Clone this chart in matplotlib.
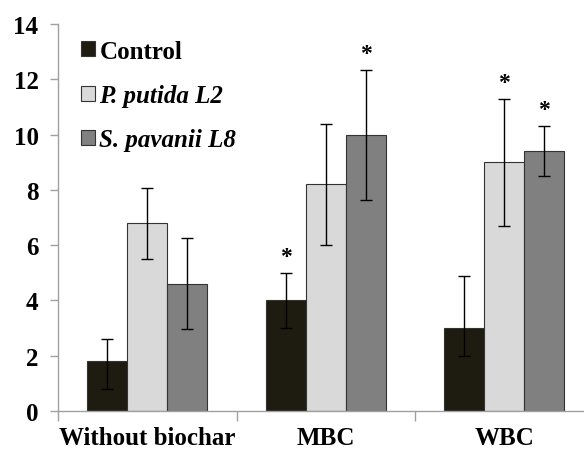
import numpy as np
import matplotlib
matplotlib.use("Agg")
import matplotlib.pyplot as plt

plt.rcParams["font.family"] = ["Liberation Serif", "DejaVu Serif"]
plt.rcParams["font.weight"] = "bold"

groups = ["Without biochar", "MBC", "WBC"]
series = ["Control", "P. putida L2", "S. pavanii L8"]
colors = ["#1e1c11", "#d9d9d9", "#808080"]

means = {
    "Control":       [1.8, 4.0, 3.0],
    "P. putida L2":  [6.8, 8.2, 9.0],
    "S. pavanii L8": [4.6, 10.0, 9.4],
}
err_low = {
    "Control":       [1.0, 1.0, 1.0],
    "P. putida L2":  [1.3, 2.2, 2.3],
    "S. pavanii L8": [1.65, 2.35, 0.9],
}
err_high = {
    "Control":       [0.82, 1.0, 1.87],
    "P. putida L2":  [1.27, 2.2, 2.3],
    "S. pavanii L8": [1.66, 2.35, 0.9],
}
# (series, group) pairs marked as significant
stars = [("Control", 1), ("S. pavanii L8", 1), ("P. putida L2", 2), ("S. pavanii L8", 2)]

fig = plt.figure(figsize=(5.84, 4.52), dpi=100)
ax = fig.add_axes([58 / 584, 40 / 452, 1 - 58 / 584, 387 / 452])

x = np.arange(len(groups))
w = 0.224
for i, s in enumerate(series):
    xs = x + (i - 1) * w
    ax.bar(xs, means[s], w, color=colors[i], edgecolor="#333333", linewidth=0.8, label=s, zorder=2)
    ax.errorbar(xs, means[s], yerr=[err_low[s], err_high[s]], fmt="none", ecolor="black",
                elinewidth=1, capsize=4, capthick=1, zorder=3)

for s, g in stars:
    i = series.index(s)
    ax.text(g + (i - 1) * w, means[s][g] + err_high[s][g] + 0.6, "*", ha="center", va="center",
            fontsize=17, fontweight="bold")

ax.set_ylim(0, 14)
ax.set_xlim(-0.5, -0.5 + 526 / 178.5)
ax.set_yticks(np.arange(0, 15, 2))
ax.tick_params(axis="y", direction="out", length=6, width=1, color="#a0a0a0", labelsize=18, pad=8)
ax.set_xticks([-0.5, 0.5, 1.5])
ax.set_xticklabels([])
ax.set_xticks(x, minor=True)
ax.set_xticklabels(groups, minor=True, fontsize=18, fontweight="bold")
ax.tick_params(axis="x", which="major", direction="out", length=7, width=1, color="#a0a0a0")
ax.tick_params(axis="x", which="minor", length=0, pad=11)

for side in ["top", "right"]:
    ax.spines[side].set_visible(False)
for side in ["left", "bottom"]:
    ax.spines[side].set_color("#a0a0a0")
    ax.spines[side].set_linewidth(1)

leg = ax.legend(loc="upper left", bbox_to_anchor=(0.025, 0.985), frameon=False, fontsize=18,
                handlelength=0.55, handleheight=0.55, handletextpad=0.18, labelspacing=0.85,
                borderaxespad=0)
for t in leg.get_texts()[1:]:
    t.set_fontstyle("italic")
for p in leg.get_patches():
    p.set_linewidth(0.8)

fig.savefig("out.png", dpi=100)
